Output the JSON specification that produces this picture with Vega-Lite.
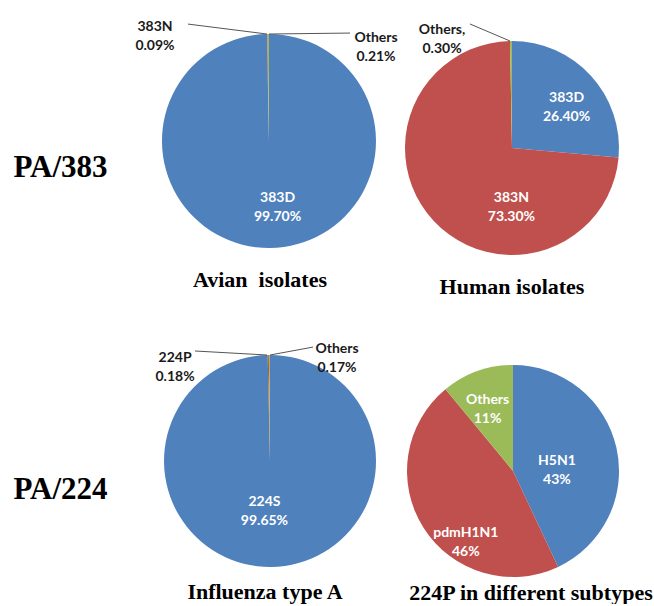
{
  "$schema": "https://vega.github.io/schema/vega-lite/v6.json",
  "padding": 0,
  "background": "white",
  "config": {
    "view": {"stroke": null},
    "title": {"font": "Liberation Serif", "fontWeight": "bold", "fontSize": 22, "color": "#000000"}
  },
  "datasets": {
    "avian": [
      {"name": "383D", "value": 99.70, "label": "383D\n99.70%", "k": 1},
      {"name": "383N", "value": 0.09, "label": "383N\n0.09%", "k": 2},
      {"name": "Others", "value": 0.21, "label": "Others\n0.21%", "k": 3}
    ],
    "human": [
      {"name": "383D", "value": 26.40, "label": "383D\n26.40%", "k": 1},
      {"name": "383N", "value": 73.30, "label": "383N\n73.30%", "k": 2},
      {"name": "Others", "value": 0.30, "label": "Others,\n0.30%", "k": 3}
    ],
    "typeA": [
      {"name": "224S", "value": 99.65, "label": "224S\n99.65%", "k": 1},
      {"name": "224P", "value": 0.18, "label": "224P\n0.18%", "k": 2},
      {"name": "Others", "value": 0.17, "label": "Others\n0.17%", "k": 3}
    ],
    "subtypes": [
      {"name": "H5N1", "value": 43, "label": "H5N1\n43%", "k": 1},
      {"name": "pdmH1N1", "value": 46, "label": "pdmH1N1\n46%", "k": 2},
      {"name": "Others", "value": 11, "label": "Others\n11%", "k": 3}
    ]
  },
  "spacing": 0,
  "vconcat": [
    {
      "spacing": 12,
      "bounds": "flush",
      "hconcat": [
        {
          "width": 143, "height": 262,
          "data": {"values": [{"gene": "PA/383"}]},
          "mark": {"type": "text", "font": "Liberation Serif", "fontWeight": "bold", "fontSize": 31, "color": "#000000", "dx": -11, "dy": 37},
          "encoding": {"text": {"field": "gene"}}
        },
        {
          "width": 230, "height": 262,
          "data": {"name": "avian"},
          "title": {"text": "Avian\u00a0 isolates", "orient": "bottom", "offset": 8, "dx": -10},
          "layer": [
            {
              "mark": {"type": "arc", "outerRadius": 107},
              "encoding": {
                "x": {"datum": 0, "type": "quantitative", "scale": {"domain": [-1.065, 1.084], "nice": false, "zero": false}, "axis": null},
                "y": {"datum": 0, "type": "quantitative", "scale": {"domain": [-1.131, 1.318], "nice": false, "zero": false}, "axis": null},
                "theta": {"field": "value", "type": "quantitative", "stack": true},
                "order": {"field": "k", "type": "quantitative"},
                "color": {"field": "name", "type": "nominal", "legend": null, "scale": {"domain": ["383D", "224S", "H5N1", "383N", "224P", "pdmH1N1", "Others"], "range": ["#4F81BD", "#4F81BD", "#4F81BD", "#C0504D", "#C0504D", "#C0504D", "#9BBB59"]}}
              }
            },
            {
              "mark": {"type": "text", "radius": 57, "dx": 8, "font": "Lato", "fontWeight": "bold", "fontSize": 14, "color": "white", "lineBreak": "\n", "lineHeight": 19},
              "encoding": {
                "x": {"datum": 0, "type": "quantitative", "scale": {"domain": [-1.065, 1.084], "nice": false, "zero": false}, "axis": null},
                "y": {"datum": 0, "type": "quantitative", "scale": {"domain": [-1.131, 1.318], "nice": false, "zero": false}, "axis": null},
                "theta": {"field": "value", "type": "quantitative", "stack": true},
                "order": {"field": "k", "type": "quantitative"},
                "text": {"condition": {"test": "datum.name === '383D'", "field": "label"}, "value": ""}
              }
            },
            {
              "data": {"values": [{}]},
              "mark": {"type": "rule", "color": "#555555", "strokeWidth": 1},
              "encoding": {
                "x": {"datum": -0.757, "type": "quantitative", "scale": {"domain": [-1.065, 1.084], "nice": false, "zero": false}, "axis": null},
                "y": {"datum": 1.093, "type": "quantitative", "scale": {"domain": [-1.131, 1.318], "nice": false, "zero": false}, "axis": null},
                "x2": {"datum": -0.019},
                "y2": {"datum": 1.0}
              }
            },
            {
              "data": {"values": [{}]},
              "mark": {"type": "rule", "color": "#555555", "strokeWidth": 1},
              "encoding": {
                "x": {"datum": 0, "type": "quantitative", "scale": {"domain": [-1.065, 1.084], "nice": false, "zero": false}, "axis": null},
                "y": {"datum": 1.0, "type": "quantitative", "scale": {"domain": [-1.131, 1.318], "nice": false, "zero": false}, "axis": null},
                "x2": {"datum": 0.757},
                "y2": {"datum": 1.009}
              }
            },
            {
              "transform": [{"filter": "datum.name === '383N'"}],
              "mark": {"type": "text", "font": "Lato", "fontWeight": "bold", "fontSize": 14, "color": "#1a1a1a", "lineBreak": "\n", "lineHeight": 19},
              "encoding": {
                "x": {"datum": -1.065, "type": "quantitative", "scale": {"domain": [-1.065, 1.084], "nice": false, "zero": false}, "axis": null},
                "y": {"datum": 1.065, "type": "quantitative", "scale": {"domain": [-1.131, 1.318], "nice": false, "zero": false}, "axis": null},
                "text": {"field": "label"}
              }
            },
            {
              "transform": [{"filter": "datum.name === 'Others'"}],
              "mark": {"type": "text", "font": "Lato", "fontWeight": "bold", "fontSize": 14, "color": "#1a1a1a", "lineBreak": "\n", "lineHeight": 19},
              "encoding": {
                "x": {"datum": 1.0, "type": "quantitative", "scale": {"domain": [-1.065, 1.084], "nice": false, "zero": false}, "axis": null},
                "y": {"datum": 0.963, "type": "quantitative", "scale": {"domain": [-1.131, 1.318], "nice": false, "zero": false}, "axis": null},
                "text": {"field": "label"}
              }
            }
          ]
        },
        {
          "width": 230, "height": 262,
          "data": {"name": "human"},
          "title": {"text": "Human isolates", "orient": "bottom", "offset": 15},
          "layer": [
            {
              "mark": {"type": "arc", "outerRadius": 107},
              "encoding": {
                "x": {"datum": 0, "type": "quantitative", "scale": {"domain": [-1.075, 1.075], "nice": false, "zero": false}, "axis": null},
                "y": {"datum": 0, "type": "quantitative", "scale": {"domain": [-1.065, 1.383], "nice": false, "zero": false}, "axis": null},
                "theta": {"field": "value", "type": "quantitative", "stack": true},
                "order": {"field": "k", "type": "quantitative"},
                "color": {"field": "name", "type": "nominal", "legend": null, "scale": {"domain": ["383D", "224S", "H5N1", "383N", "224P", "pdmH1N1", "Others"], "range": ["#4F81BD", "#4F81BD", "#4F81BD", "#C0504D", "#C0504D", "#C0504D", "#9BBB59"]}}
              }
            },
            {
              "mark": {"type": "text", "radius": 74, "font": "Lato", "fontWeight": "bold", "fontSize": 14, "color": "white", "lineBreak": "\n", "lineHeight": 19},
              "encoding": {
                "x": {"datum": 0, "type": "quantitative", "scale": {"domain": [-1.075, 1.075], "nice": false, "zero": false}, "axis": null},
                "y": {"datum": 0, "type": "quantitative", "scale": {"domain": [-1.065, 1.383], "nice": false, "zero": false}, "axis": null},
                "theta": {"field": "value", "type": "quantitative", "stack": true},
                "order": {"field": "k", "type": "quantitative"},
                "text": {"condition": {"test": "datum.name === '383D'", "field": "label"}, "value": ""}
              }
            },
            {
              "mark": {"type": "text", "radius": 50, "dx": 36, "dy": 16, "font": "Lato", "fontWeight": "bold", "fontSize": 14, "color": "white", "lineBreak": "\n", "lineHeight": 19},
              "encoding": {
                "x": {"datum": 0, "type": "quantitative", "scale": {"domain": [-1.075, 1.075], "nice": false, "zero": false}, "axis": null},
                "y": {"datum": 0, "type": "quantitative", "scale": {"domain": [-1.065, 1.383], "nice": false, "zero": false}, "axis": null},
                "theta": {"field": "value", "type": "quantitative", "stack": true},
                "order": {"field": "k", "type": "quantitative"},
                "text": {"condition": {"test": "datum.name === '383N'", "field": "label"}, "value": ""}
              }
            },
            {
              "data": {"values": [{}]},
              "mark": {"type": "rule", "color": "#555555", "strokeWidth": 1},
              "encoding": {
                "x": {"datum": -0.393, "type": "quantitative", "scale": {"domain": [-1.075, 1.075], "nice": false, "zero": false}, "axis": null},
                "y": {"datum": 1.159, "type": "quantitative", "scale": {"domain": [-1.065, 1.383], "nice": false, "zero": false}, "axis": null},
                "x2": {"datum": -0.019},
                "y2": {"datum": 1.0}
              }
            },
            {
              "transform": [{"filter": "datum.name === 'Others'"}],
              "mark": {"type": "text", "font": "Lato", "fontWeight": "bold", "fontSize": 14, "color": "#1a1a1a", "lineBreak": "\n", "lineHeight": 19},
              "encoding": {
                "x": {"datum": -0.654, "type": "quantitative", "scale": {"domain": [-1.075, 1.075], "nice": false, "zero": false}, "axis": null},
                "y": {"datum": 1.103, "type": "quantitative", "scale": {"domain": [-1.065, 1.383], "nice": false, "zero": false}, "axis": null},
                "text": {"field": "label"}
              }
            }
          ]
        }
      ]
    },
    {
      "spacing": 12,
      "bounds": "flush",
      "hconcat": [
        {
          "width": 143, "height": 278,
          "data": {"values": [{"gene": "PA/224"}]},
          "mark": {"type": "text", "font": "Liberation Serif", "fontWeight": "bold", "fontSize": 31, "color": "#000000", "dx": -11, "dy": 53},
          "encoding": {"text": {"field": "gene"}}
        },
        {
          "width": 230, "height": 278,
          "data": {"name": "typeA"},
          "title": {"text": "Influenza type A", "orient": "bottom", "offset": 6, "dx": -5},
          "layer": [
            {
              "mark": {"type": "arc", "outerRadius": 106},
              "encoding": {
                "x": {"datum": 0, "type": "quantitative", "scale": {"domain": [-1.085, 1.085], "nice": false, "zero": false}, "axis": null},
                "y": {"datum": 0, "type": "quantitative", "scale": {"domain": [-1.085, 1.538], "nice": false, "zero": false}, "axis": null},
                "theta": {"field": "value", "type": "quantitative", "stack": true},
                "order": {"field": "k", "type": "quantitative"},
                "color": {"field": "name", "type": "nominal", "legend": null, "scale": {"domain": ["383D", "224S", "H5N1", "383N", "224P", "pdmH1N1", "Others"], "range": ["#4F81BD", "#4F81BD", "#4F81BD", "#C0504D", "#C0504D", "#C0504D", "#9BBB59"]}}
              }
            },
            {
              "mark": {"type": "text", "radius": 41, "dx": -6, "font": "Lato", "fontWeight": "bold", "fontSize": 14, "color": "white", "lineBreak": "\n", "lineHeight": 19},
              "encoding": {
                "x": {"datum": 0, "type": "quantitative", "scale": {"domain": [-1.085, 1.085], "nice": false, "zero": false}, "axis": null},
                "y": {"datum": 0, "type": "quantitative", "scale": {"domain": [-1.085, 1.538], "nice": false, "zero": false}, "axis": null},
                "theta": {"field": "value", "type": "quantitative", "stack": true},
                "order": {"field": "k", "type": "quantitative"},
                "text": {"condition": {"test": "datum.name === '224S'", "field": "label"}, "value": ""}
              }
            },
            {
              "data": {"values": [{}]},
              "mark": {"type": "rule", "color": "#555555", "strokeWidth": 1},
              "encoding": {
                "x": {"datum": -0.708, "type": "quantitative", "scale": {"domain": [-1.085, 1.085], "nice": false, "zero": false}, "axis": null},
                "y": {"datum": 1.038, "type": "quantitative", "scale": {"domain": [-1.085, 1.538], "nice": false, "zero": false}, "axis": null},
                "x2": {"datum": -0.028},
                "y2": {"datum": 1.0}
              }
            },
            {
              "data": {"values": [{}]},
              "mark": {"type": "rule", "color": "#555555", "strokeWidth": 1},
              "encoding": {
                "x": {"datum": 0, "type": "quantitative", "scale": {"domain": [-1.085, 1.085], "nice": false, "zero": false}, "axis": null},
                "y": {"datum": 1.0, "type": "quantitative", "scale": {"domain": [-1.085, 1.538], "nice": false, "zero": false}, "axis": null},
                "x2": {"datum": 0.406},
                "y2": {"datum": 1.075}
              }
            },
            {
              "transform": [{"filter": "datum.name === '224P'"}],
              "mark": {"type": "text", "font": "Lato", "fontWeight": "bold", "fontSize": 14, "color": "#1a1a1a", "lineBreak": "\n", "lineHeight": 19},
              "encoding": {
                "x": {"datum": -0.896, "type": "quantitative", "scale": {"domain": [-1.085, 1.085], "nice": false, "zero": false}, "axis": null},
                "y": {"datum": 0.972, "type": "quantitative", "scale": {"domain": [-1.085, 1.538], "nice": false, "zero": false}, "axis": null},
                "text": {"field": "label"}
              }
            },
            {
              "transform": [{"filter": "datum.name === 'Others'"}],
              "mark": {"type": "text", "font": "Lato", "fontWeight": "bold", "fontSize": 14, "color": "#1a1a1a", "lineBreak": "\n", "lineHeight": 19},
              "encoding": {
                "x": {"datum": 0.632, "type": "quantitative", "scale": {"domain": [-1.085, 1.085], "nice": false, "zero": false}, "axis": null},
                "y": {"datum": 1.057, "type": "quantitative", "scale": {"domain": [-1.085, 1.538], "nice": false, "zero": false}, "axis": null},
                "text": {"field": "label"}
              }
            }
          ]
        },
        {
          "width": 230, "height": 278,
          "data": {"name": "subtypes"},
          "title": {"text": "224P in different subtypes", "orient": "bottom", "offset": 6, "dx": 19},
          "layer": [
            {
              "mark": {"type": "arc", "outerRadius": 106},
              "encoding": {
                "x": {"datum": 0, "type": "quantitative", "scale": {"domain": [-1.094, 1.075], "nice": false, "zero": false}, "axis": null},
                "y": {"datum": 0, "type": "quantitative", "scale": {"domain": [-0.991, 1.632], "nice": false, "zero": false}, "axis": null},
                "theta": {"field": "value", "type": "quantitative", "stack": true},
                "order": {"field": "k", "type": "quantitative"},
                "color": {"field": "name", "type": "nominal", "legend": null, "scale": {"domain": ["383D", "224S", "H5N1", "383N", "224P", "pdmH1N1", "Others"], "range": ["#4F81BD", "#4F81BD", "#4F81BD", "#C0504D", "#C0504D", "#C0504D", "#9BBB59"]}}
              }
            },
            {
              "mark": {"type": "text", "radius": 45, "font": "Lato", "fontWeight": "bold", "fontSize": 14, "color": "white", "lineBreak": "\n", "lineHeight": 19},
              "encoding": {
                "x": {"datum": 0, "type": "quantitative", "scale": {"domain": [-1.094, 1.075], "nice": false, "zero": false}, "axis": null},
                "y": {"datum": 0, "type": "quantitative", "scale": {"domain": [-0.991, 1.632], "nice": false, "zero": false}, "axis": null},
                "theta": {"field": "value", "type": "quantitative", "stack": true},
                "order": {"field": "k", "type": "quantitative"},
                "text": {"condition": {"test": "datum.name === 'H5N1'", "field": "label"}, "value": ""}
              }
            },
            {
              "mark": {"type": "text", "radius": 75, "font": "Lato", "fontWeight": "bold", "fontSize": 14, "color": "white", "lineBreak": "\n", "lineHeight": 19},
              "encoding": {
                "x": {"datum": 0, "type": "quantitative", "scale": {"domain": [-1.094, 1.075], "nice": false, "zero": false}, "axis": null},
                "y": {"datum": 0, "type": "quantitative", "scale": {"domain": [-0.991, 1.632], "nice": false, "zero": false}, "axis": null},
                "theta": {"field": "value", "type": "quantitative", "stack": true},
                "order": {"field": "k", "type": "quantitative"},
                "text": {"condition": {"test": "datum.name === 'Others'", "field": "label"}, "value": ""}
              }
            },
            {
              "mark": {"type": "text", "radius": 76, "dx": 17, "dy": 21, "font": "Lato", "fontWeight": "bold", "fontSize": 14, "color": "white", "lineBreak": "\n", "lineHeight": 19},
              "encoding": {
                "x": {"datum": 0, "type": "quantitative", "scale": {"domain": [-1.094, 1.075], "nice": false, "zero": false}, "axis": null},
                "y": {"datum": 0, "type": "quantitative", "scale": {"domain": [-0.991, 1.632], "nice": false, "zero": false}, "axis": null},
                "theta": {"field": "value", "type": "quantitative", "stack": true},
                "order": {"field": "k", "type": "quantitative"},
                "text": {"condition": {"test": "datum.name === 'pdmH1N1'", "field": "label"}, "value": ""}
              }
            }
          ]
        }
      ]
    }
  ]
}
